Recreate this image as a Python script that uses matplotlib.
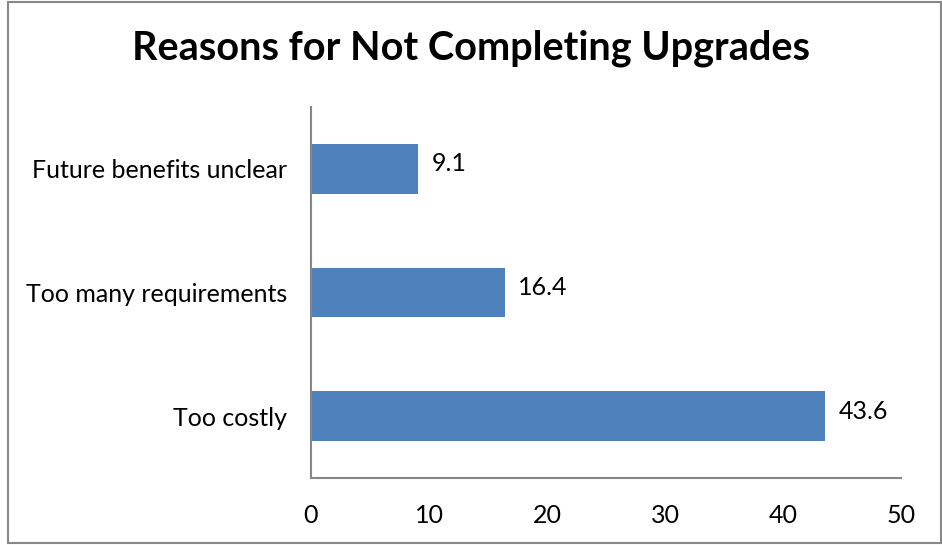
import matplotlib
matplotlib.use('Agg')
import matplotlib.pyplot as plt
from matplotlib.patches import Rectangle

plt.rcParams['font.family'] = ['Lato', 'DejaVu Sans']

# ─── Survey data
#
reasons = ['Too costly', 'Too many requirements', 'Future benefits unclear']
percent = [43.6, 16.4, 9.1]

BAR_COLOR = '#4f81bd'
AXIS_COLOR = '#868686'
LABEL_SIZE = 18

fig = plt.figure(figsize=(9.42, 5.45), dpi=100)
ax = fig.add_axes([311 / 942, 1 - 478 / 545, 590 / 942, 371 / 545])

ypos = list(range(len(reasons)))
bars = ax.barh(ypos, percent, height=0.4, color=BAR_COLOR)

# value labels to the right of each bar
for bar, val in zip(bars, percent):
    ax.text(bar.get_width() + 1.1, bar.get_y() + bar.get_height() / 2 + 0.04,
            f'{val}', va='center', ha='left', fontsize=LABEL_SIZE)

ax.set_xlim(0, 50)
ax.set_ylim(-0.5, len(reasons) - 0.5)
ax.set_xticks(range(0, 51, 10))
ax.set_yticks(ypos)
ax.set_yticklabels(reasons)
ax.tick_params(axis='both', length=0, labelsize=LABEL_SIZE)
ax.tick_params(axis='x', pad=19)
ax.tick_params(axis='y', pad=17)

for side in ['top', 'right']:
    ax.spines[side].set_visible(False)
for side in ['left', 'bottom']:
    ax.spines[side].set_color(AXIS_COLOR)
    ax.spines[side].set_linewidth(1.5)

fig.text(471 / 942, 1 - 48 / 545, 'Reasons for Not Completing Upgrades',
         ha='center', va='center', fontsize=28.5, fontweight='bold')

# chart frame
fig.patches.append(Rectangle((8 / 942, 2 / 545), 933 / 942, 541 / 545,
                             transform=fig.transFigure, fill=False,
                             edgecolor='#888888', linewidth=1.5))

plt.savefig('out.png', dpi=100)
